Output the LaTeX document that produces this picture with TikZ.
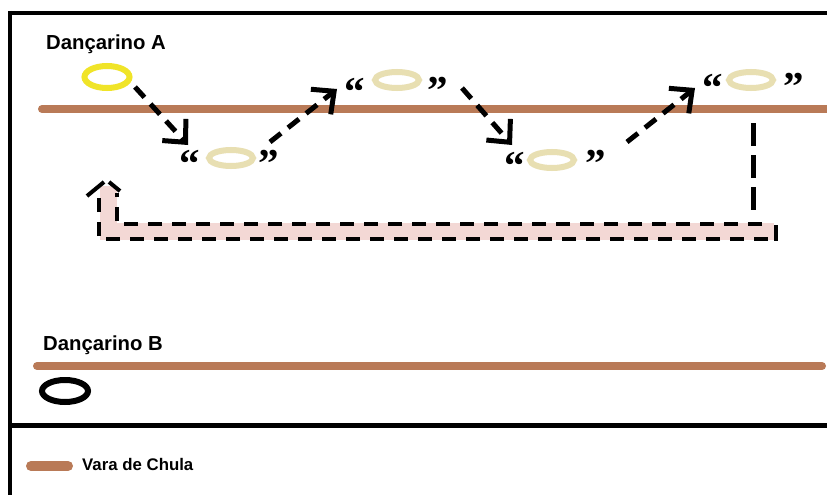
\documentclass[tikz,border=0pt]{standalone}
\usepackage{fontspec}
\setmainfont{Liberation Sans}
\newfontfamily\quotefont{Liberation Serif}
\usetikzlibrary{shapes.geometric,arrows.meta}
\definecolor{paintbrown}{RGB}{185,122,87}
\definecolor{paintyellow}{RGB}{240,228,40}
\definecolor{cream}{RGB}{232,223,178}
\definecolor{bandpink}{RGB}{243,216,213}
\tikzset{
  frameline/.style={line width=4.5pt,black},
  vara/.style={line width=8pt,paintbrown,line cap=round},
  ring/.style={ellipse,draw,line width=6pt,inner sep=0pt,minimum width=44pt,minimum height=16pt},
  quotemark/.style={font=\quotefont\bfseries\fontsize{41}{41}\selectfont,inner sep=0pt,anchor=base},
  label/.style={font=\bfseries\fontsize{20.3}{22}\selectfont,inner sep=0pt,anchor=base west},
  move/.style={line width=5pt,dash pattern=on 14pt off 9pt,-{Straight Barb[length=17pt,width=32pt]}},
  outline/.style={line width=4pt,dash pattern=on 14pt off 10pt},
}
\begin{document}
\begin{tikzpicture}[x=1pt,y=-1pt]
\useasboundingbox[fill=white] (0,0) rectangle (827,495);
% frame
\draw[frameline] (8,13) -- (827,13);
\draw[frameline] (10,11) -- (10,495);
\draw[frameline] (8,425.5) -- (827,425.5);
% labels
\node[label] (la) at (46,49) {Dançarino A};
\node[label] (lb) at (43,350) {Dançarino B};
% poles
\draw[vara] (42,109) -- (830,109);
\draw[vara] (37,366) -- (822,366);
% return band
\draw[bandpink,line width=17pt] (774,231) -- (108,231) -- (108,186);
\draw[black,outline] (768,239) -- (99,239) -- (99,196);
\draw[black,outline] (762,224) -- (117,224) -- (117,193);
\draw[black,line width=4pt] (776,225) -- (776,241);
\draw[black,line width=4pt] (87,196) -- (104,182);
\draw[black,line width=4pt] (109,182) -- (120,191);
% dancer A
\node[ring,draw=paintyellow,minimum width=45pt,minimum height=22pt] (ya) at (107,77) {};
% positions
\node[ring,draw=cream] (p1) at (231,158) {};
\node[quotemark] (p1l) at (190,177) {“};
\node[quotemark] (p1r) at (269,177) {”};
\node[ring,draw=cream] (p2) at (397,80) {};
\node[quotemark] (p2l) at (355,105) {“};
\node[quotemark] (p2r) at (438,104) {”};
\node[ring,draw=cream] (p3) at (552,160) {};
\node[quotemark] (p3l) at (515,179) {“};
\node[quotemark] (p3r) at (596,177) {”};
\node[ring,draw=cream] (p4) at (751,80) {};
\node[quotemark] (p4l) at (713,101) {“};
\node[quotemark] (p4r) at (794,100) {”};
% arrow ends
\coordinate (a1s) at (135,87);
\coordinate (a1e) at (188,145);
\coordinate (a2s) at (270,142);
\coordinate (a2e) at (337,89);
\coordinate (a3s) at (462,88);
\coordinate (a3e) at (512,145);
\coordinate (a4s) at (627,142);
\coordinate (a4e) at (695,88);
\draw[move] (a1s) -- (a1e);
\draw[move] (a2s) -- (a2e);
\draw[move] (a3s) -- (a3e);
\draw[move] (a4s) -- (a4e);
\coordinate (vs) at (753,123);
\coordinate (ve) at (753,213);
\draw[line width=5pt,dash pattern=on 23pt off 9pt] (vs) -- (ve);
% dancer B
\node[ring,draw=black,minimum width=46pt,minimum height=22pt] (db) at (65,391) {};
% legend
\draw[paintbrown,line width=10pt,line cap=round] (31,466) -- (68,466);
\node[label,font=\bfseries\fontsize{16.8}{18}\selectfont] (lv) at (82,470) {Vara de Chula};
\end{tikzpicture}
\end{document}
